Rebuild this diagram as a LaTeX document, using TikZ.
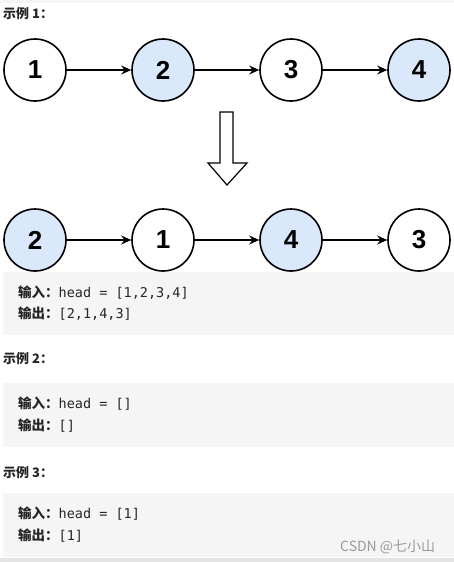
\documentclass[tikz,border=0pt]{standalone}
\usepackage{fontspec}
\setmainfont{Liberation Sans}
\newfontfamily\cjk{Noto Sans CJK SC}
\newfontfamily\monof{DejaVu Sans Mono}
\usetikzlibrary{arrows.meta}
\definecolor{nodeblue}{HTML}{DAE8FC}
\definecolor{boxgray}{HTML}{F5F5F5}
\definecolor{wmgray}{HTML}{9A9A9A}
\tikzset{
  circ/.style={circle, draw=black, line width=1.6pt, minimum size=62pt, inner sep=0pt, fill=white, font=\fontsize{26}{26}\selectfont\bfseries},
  bluecirc/.style={circ, fill=nodeblue},
  arr/.style={-{Stealth[length=10pt,width=9pt]}, line width=1.3pt, black},
  codebox/.style={fill=boxgray, draw=none},
  title/.style={anchor=base west, inner sep=0pt, font=\cjk\bfseries\fontsize{13}{15}\selectfont, text=black!85},
  codeline/.style={anchor=base west, inner sep=0pt, font=\fontsize{13.5}{15}\selectfont, text=black!85},
}
\newcommand{\lbl}[1]{{\cjk\bfseries #1}}
\begin{document}
\begin{tikzpicture}[x=1pt,y=-1pt]
\useasboundingbox (0,0) rectangle (454,562);
\fill[white] (0,0) rectangle (454,562);
\fill[boxgray] (0,0) rectangle (454,3);
% title 1
\node[title] (t1) at (3,19) {示例 1：};
% row 1
\node[circ] (a1) at (35,70) {1};
\node[bluecirc] (a2) at (163,70) {2};
\node[circ] (a3) at (291,70) {3};
\node[bluecirc] (a4) at (419,70) {4};
\draw[arr] (a1) -- (a2);
\draw[arr] (a2) -- (a3);
\draw[arr] (a3) -- (a4);
% hollow down arrow
\draw[line width=1.2pt, fill=white, line join=miter]
  (220,112) -- (233,112) -- (233,163) -- (247,163) -- (227,185) -- (208,163) -- (220,163) -- cycle;
% row 2
\node[bluecirc] (b1) at (35,240) {2};
\node[circ] (b2) at (163,240) {1};
\node[bluecirc] (b3) at (291,240) {4};
\node[circ] (b4) at (419,240) {3};
\draw[arr] (b1) -- (b2);
\draw[arr] (b2) -- (b3);
\draw[arr] (b3) -- (b4);
% box 1
\fill[codebox] (3,272) rectangle (454,335);
\node[codeline] (in1) at (18,297) {\lbl{输入：}\monof head = [1,2,3,4]};
\node[codeline] (out1) at (18,318) {\lbl{输出：}\monof [2,1,4,3]};
% example 2
\node[title] (t2) at (3,363) {示例 2：};
\fill[codebox] (3,383) rectangle (454,447);
\node[codeline] (in2) at (18,408) {\lbl{输入：}\monof head = []};
\node[codeline] (out2) at (18,430) {\lbl{输出：}\monof []};
% example 3
\node[title] (t3) at (3,477) {示例 3：};
\fill[codebox] (3,493) rectangle (454,557);
\node[codeline] (in3) at (18,518) {\lbl{输入：}\monof head = [1]};
\node[codeline] (out3) at (18,540) {\lbl{输出：}\monof [1]};
\fill[boxgray!70!gray!60] (0,558) rectangle (454,562);
\node[anchor=base west, inner sep=0pt, text=wmgray, font=\cjk\fontsize{14}{16}\selectfont] (wm) at (340,551) {CSDN @七小山};
\end{tikzpicture}
\end{document}
